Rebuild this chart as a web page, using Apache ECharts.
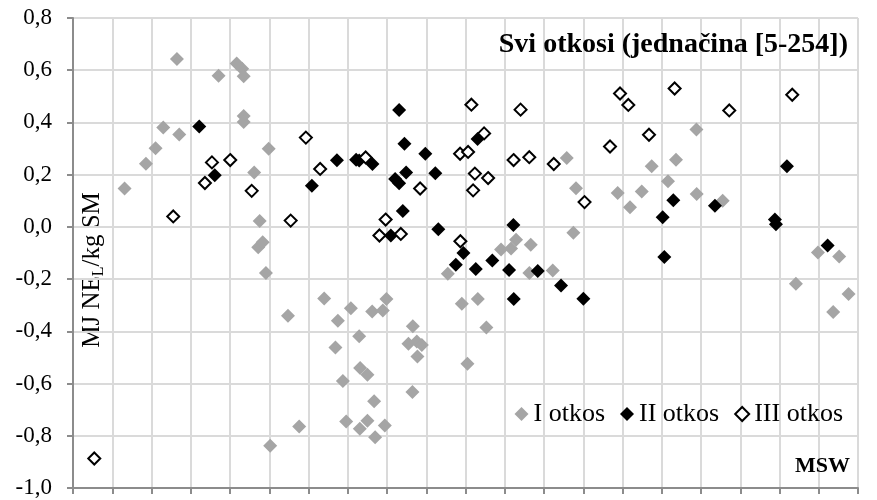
<!DOCTYPE html>
<html>
<head>
<meta charset="utf-8">
<script src="https://cdn.jsdelivr.net/npm/echarts@6/dist/echarts.min.js"></script>
<style>
html,body{margin:0;padding:0;background:#fff;}
#chart{width:877px;height:500px;}
</style>
</head>
<body>
<div id="chart"></div>
<script>
// Series names
var seriesNames = ['I otkos', 'II otkos', 'III otkos'];
// I otkos: [x, y]
var otkos1 = [
  [1.314,0.147],[1.859,0.242],[2.103,0.301],[2.299,0.381],[2.648,0.643],[2.707,0.354],
  [3.708,0.579],[4.171,0.626],[4.311,0.606],[4.349,0.577],[4.349,0.425],[4.349,0.402],
  [4.617,0.208],[4.986,0.299],[4.757,0.023],[4.719,-0.078],[4.833,-0.059],[4.915,-0.177],
  [5.477,-0.340],[5.024,-0.838],[5.763,-0.764],[6.399,-0.274],[6.748,-0.359],[7.079,-0.312],
  [6.687,-0.462],[7.291,-0.419],[7.622,-0.324],[7.894,-0.320],[7.986,-0.276],[7.316,-0.540],
  [7.502,-0.566],[6.876,-0.590],[7.672,-0.668],[6.960,-0.745],[7.308,-0.773],[7.502,-0.742],
  [7.945,-0.761],[7.698,-0.806],[8.658,-0.381],[8.546,-0.448],[8.760,-0.439],[8.887,-0.452],
  [8.775,-0.496],[8.648,-0.632],[9.549,-0.179],[9.906,-0.294],[10.313,-0.276],[10.532,-0.385],
  [10.049,-0.524],[10.906,-0.087],[11.161,-0.083],[11.288,-0.049],[11.663,-0.068],[11.627,-0.177],
  [12.223,-0.167],[12.580,0.264],[12.816,0.148],[12.748,-0.022],[13.878,0.130],[14.191,0.075],
  [14.490,0.136],[14.744,0.232],[15.159,0.175],[15.363,0.257],[15.884,0.373],[15.890,0.126],
  [16.552,0.100],[18.418,-0.218],[18.979,-0.098],[19.521,-0.113],[19.760,-0.257],[19.368,-0.326]
];
// II otkos
var otkos2 = [
  [3.216,0.384],[3.611,0.198],[6.086,0.158],[6.725,0.255],[7.214,0.257],[7.291,0.254],
  [7.629,0.241],[8.207,0.183],[8.309,0.167],[8.309,0.448],[8.444,0.318],[8.487,0.208],
  [8.976,0.280],[9.231,0.205],[8.403,0.061],[9.307,-0.009],[8.098,-0.033],[10.308,0.337],
  [11.220,0.007],[9.947,-0.100],[9.753,-0.145],[10.262,-0.161],[10.683,-0.129],[11.110,-0.165],
  [11.230,-0.276],[11.841,-0.169],[12.434,-0.224],[13.003,-0.275],[15.024,0.037],[15.294,0.102],
  [15.065,-0.115],[16.355,0.081],[17.883,0.028],[17.910,0.010],[18.189,0.232],[19.226,-0.071]
];
// III otkos
var otkos3 = [
  [0.542,-0.887],[2.554,0.040],[3.361,0.168],[3.540,0.247],[4.006,0.256],[4.553,0.138],
  [5.546,0.024],[5.933,0.342],[6.297,0.222],[7.456,0.266],[7.965,0.028],[7.807,-0.033],
  [8.352,-0.027],[8.844,0.147],[9.862,0.280],[10.066,0.287],[10.150,0.468],[10.474,0.358],
  [10.239,0.204],[10.576,0.187],[10.194,0.140],[9.870,-0.055],[11.225,0.256],[11.625,0.267],
  [11.403,0.449],[12.249,0.241],[13.033,0.095],[13.682,0.308],[13.937,0.511],[14.148,0.467],
  [14.675,0.353],[15.328,0.530],[16.720,0.446],[18.325,0.506]
];
// Y axis ticks
var yMin = -1.0, yMax = 0.8, yStep = 0.2;
var xMin = 0, xMax = 20, xStep = 1;
var titleText = 'Svi otkosi (jednačina [5-254])';
var xName = 'MSW';

var serif = "'Liberation Serif', 'DejaVu Serif', serif";
var chart = echarts.init(document.getElementById('chart'));
var option = {
  animation: false,
  backgroundColor: '#fff',
  title: [
    {text: titleText, right: 29, top: 31, padding: 0,
     textStyle: {fontFamily: serif, fontWeight: 'bold', fontSize: 28, color: '#000'}},
    {text: xName, right: 27, top: 455, padding: 0,
     textStyle: {fontFamily: serif, fontWeight: 'bold', fontSize: 22, color: '#000'}}
  ],
  legend: {
    data: seriesNames,
    right: 34, top: 401, padding: 0, itemGap: 15,
    itemWidth: 14, itemHeight: 14,
    textStyle: {fontFamily: serif, fontSize: 26, color: '#000'}
  },
  grid: {left: 73, right: 19, top: 18, bottom: 12, containLabel: false},
  xAxis: {
    type: 'value', min: xMin, max: xMax, interval: xStep,
    axisLine: {show: true, onZero: false, lineStyle: {color: '#8c8c8c', width: 2}},
    axisTick: {show: true, length: 6, lineStyle: {color: '#8c8c8c', width: 2}},
    axisLabel: {show: false},
    splitLine: {show: true, lineStyle: {color: '#dadada', width: 2}}
  },
  yAxis: {
    type: 'value', min: yMin, max: yMax, interval: yStep,
    axisLine: {show: true, onZero: false, lineStyle: {color: '#8c8c8c', width: 2}},
    axisTick: {show: true, length: 6, lineStyle: {color: '#8c8c8c', width: 2}},
    axisLabel: {
      margin: 21, fontFamily: serif, fontSize: 23, color: '#000',
      formatter: function (v) { return (Math.round(v * 10) / 10).toFixed(1).replace('.', ','); }
    },
    splitLine: {show: true, lineStyle: {color: '#dadada', width: 2}}
  },
  graphic: [{
    type: 'text',
    x: 92, y: 270,
    rotation: Math.PI / 2,
    style: {
      text: '{n|MJ NE}{s|L}{n|/kg SM}',
      align: 'center', verticalAlign: 'middle',
      rich: {
        n: {fontFamily: serif, fontSize: 25, lineHeight: 30, fill: '#000'},
        s: {fontFamily: serif, fontSize: 16, lineHeight: 16, verticalAlign: 'bottom', fill: '#000'}
      }
    }
  }],
  series: [
    {name: seriesNames[0], type: 'scatter', symbol: 'diamond', symbolSize: 14,
     itemStyle: {color: '#a5a5a5', opacity: 1}, data: otkos1, z: 2},
    {name: seriesNames[1], type: 'scatter', symbol: 'diamond', symbolSize: 14,
     itemStyle: {color: '#000000', opacity: 1}, data: otkos2, z: 3},
    {name: seriesNames[2], type: 'scatter', symbol: 'diamond', symbolSize: 12,
     itemStyle: {color: '#ffffff', borderColor: '#000000', borderWidth: 2, opacity: 1}, data: otkos3, z: 4}
  ]
};
chart.setOption(option);
</script>
</body>
</html>
